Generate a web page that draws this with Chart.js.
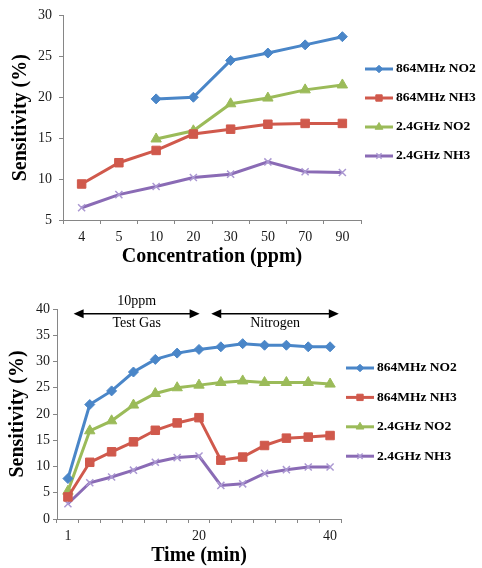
<!DOCTYPE html>
<html>
<head>
<meta charset="utf-8">
<script src="https://cdn.jsdelivr.net/npm/chart.js@4.4.1/dist/chart.umd.min.js"></script>
<style>
  body { margin: 0; background: #fff; }
  canvas { display: block; }
</style>
</head>
<body>
<canvas id="concChart" width="482" height="284"></canvas>
<canvas id="timeChart" width="482" height="284"></canvas>
<script>
const seriesNames = ["864MHz NO2", "864MHz NH3", "2.4GHz NO2", "2.4GHz NH3"];

// top chart: sensitivity vs concentration
const concLabels = ["4", "5", "10", "20", "30", "50", "70", "90"];
const concNo2_864 = [null, null, 19.8, 20.0, 24.5, 25.4, 26.4, 27.4];
const concNh3_864 = [9.4, 12.0, 13.5, 15.5, 16.1, 16.7, 16.8, 16.8];
const concNo2_24 = [null, null, 14.9, 15.9, 19.2, 19.9, 20.9, 21.5];
const concNh3_24 = [6.5, 8.1, 9.1, 10.2, 10.6, 12.1, 10.9, 10.8];

// bottom chart: sensitivity vs time
const timeLabels = ["1", "", "", "", "", "", "20", "", "", "", "", "", "40"];
const timeNo2_864 = [7.7, 21.8, 24.4, 28.0, 30.4, 31.6, 32.3, 32.8, 33.4, 33.1, 33.1, 32.8, 32.8];
const timeNh3_864 = [4.2, 10.8, 12.8, 14.7, 16.9, 18.3, 19.3, 11.2, 11.8, 14.0, 15.4, 15.6, 15.9];
const timeNo2_24 = [5.3, 16.8, 18.7, 21.7, 23.9, 25.0, 25.5, 26.0, 26.3, 26.0, 26.0, 26.0, 25.7];
const timeNh3_24 = [2.9, 6.9, 8.0, 9.3, 10.8, 11.7, 12.0, 6.4, 6.7, 8.7, 9.4, 9.9, 9.9];

// phases marked above the time chart (positions in category units)
const phaseTop = ["10ppm", ""];
const phaseNames = ["Test Gas", "Nitrogen"];
const phaseFrom = [0.26, 6.56];
const phaseTo = [6.03, 12.4];

const FONT = "'Liberation Serif', 'Times New Roman', serif";
const AXIS = "#868686";

const looks = [
  { color: "#4a86c8", marker: "#4a86c8", point: "rectRot", radius: 5 },
  { color: "#d0594c", marker: "#d0594c", point: "rect", radius: 6 },
  { color: "#9bbb59", marker: "#9bbb59", point: "triangle", radius: 6 },
  { color: "#8a6bb5", marker: "#ab98d2", point: "crossRot", radius: 5 }
];

function makeDatasets(series) {
  return series.map((values, i) => ({
    label: seriesNames[i],
    data: values,
    borderColor: looks[i].color,
    backgroundColor: looks[i].marker,
    borderWidth: 3,
    pointStyle: looks[i].point,
    pointRadius: looks[i].radius,
    pointBackgroundColor: looks[i].marker,
    pointBorderColor: looks[i].marker,
    pointBorderWidth: looks[i].point === "crossRot" ? 1.5 : 1,
    tension: 0
  }));
}

const sideLegend = {
  id: "sideLegend",
  afterDraw(chart, args, opts) {
    const ctx = chart.ctx;
    ctx.save();
    chart.data.datasets.forEach((ds, i) => {
      const y = opts.top + i * opts.step;
      ctx.strokeStyle = ds.borderColor;
      ctx.lineWidth = 3;
      ctx.beginPath();
      ctx.moveTo(opts.left, y);
      ctx.lineTo(opts.left + 28, y);
      ctx.stroke();
      ctx.fillStyle = ds.pointBackgroundColor;
      ctx.strokeStyle = ds.pointBorderColor;
      ctx.lineWidth = ds.pointBorderWidth;
      Chart.helpers.drawPoint(ctx, {
        pointStyle: ds.pointStyle,
        radius: ds.pointRadius * 0.75,
        rotation: 0,
        borderWidth: ds.pointBorderWidth
      }, opts.left + 14, y);
      ctx.fillStyle = "#000";
      ctx.font = "bold 13.5px " + FONT;
      ctx.textBaseline = "middle";
      ctx.textAlign = "left";
      ctx.fillText(ds.label, opts.textLeft, y);
    });
    ctx.restore();
  }
};

const phaseArrows = {
  id: "phaseArrows",
  afterDraw(chart) {
    const ctx = chart.ctx;
    const xs = chart.scales.x;
    const ys = chart.scales.y;
    const y = ys.getPixelForValue(39.1);
    ctx.save();
    ctx.strokeStyle = "#000";
    ctx.fillStyle = "#000";
    ctx.lineWidth = 1.5;
    phaseNames.forEach((name, i) => {
      const x1 = xs.getPixelForValue(phaseFrom[i]);
      const x2 = xs.getPixelForValue(phaseTo[i]);
      ctx.beginPath();
      ctx.moveTo(x1 + 6, y);
      ctx.lineTo(x2 - 6, y);
      ctx.stroke();
      ctx.beginPath();
      ctx.moveTo(x1, y);
      ctx.lineTo(x1 + 10, y - 4.5);
      ctx.lineTo(x1 + 10, y + 4.5);
      ctx.closePath();
      ctx.fill();
      ctx.beginPath();
      ctx.moveTo(x2, y);
      ctx.lineTo(x2 - 10, y - 4.5);
      ctx.lineTo(x2 - 10, y + 4.5);
      ctx.closePath();
      ctx.fill();
      ctx.font = "14px " + FONT;
      ctx.textAlign = "center";
      ctx.textBaseline = "middle";
      const cx = (x1 + x2) / 2;
      ctx.fillText(name, cx, ys.getPixelForValue(37.3));
      if (phaseTop[i]) ctx.fillText(phaseTop[i], cx, ys.getPixelForValue(41.45));
    });
    ctx.restore();
  }
};

function makeChart(id, labels, series, cfg) {
  return new Chart(document.getElementById(id), {
    type: "line",
    data: { labels: labels, datasets: makeDatasets(series) },
    plugins: cfg.plugins,
    options: {
      responsive: false,
      animation: false,
      devicePixelRatio: 1,
      layout: { padding: cfg.padding },
      plugins: {
        legend: { display: false },
        tooltip: { enabled: false },
        sideLegend: cfg.legend
      },
      scales: {
        x: {
          type: "category",
          offset: true,
          afterFit: s => { s.height = cfg.xHeight; },
          grid: { drawOnChartArea: false, offset: true, tickLength: 4, color: AXIS },
          border: { color: AXIS, width: 1 },
          ticks: {
            autoSkip: false, maxRotation: 0, padding: cfg.xPad,
            color: "#1a1a1a", font: { family: FONT, size: 14 }
          },
          title: {
            display: true, text: cfg.xTitle, color: "#000",
            font: { family: FONT, size: 20, weight: "bold" },
            padding: { top: 0, bottom: cfg.xTitlePad }
          }
        },
        y: {
          min: cfg.yMin, max: cfg.yMax,
          afterFit: s => { s.width = cfg.yWidth; },
          grid: { drawOnChartArea: false, tickLength: 4, color: AXIS },
          border: { color: AXIS, width: 1 },
          ticks: {
            stepSize: 5, padding: cfg.yPad,
            color: "#1a1a1a", font: { family: FONT, size: 14 }
          },
          title: {
            display: true, text: "Sensitivity (%)", color: "#000",
            font: { family: FONT, size: 20, weight: "bold" },
            padding: { top: cfg.yTitlePad, bottom: 0 }
          }
        }
      }
    }
  });
}

makeChart("concChart", concLabels, [concNo2_864, concNh3_864, concNo2_24, concNh3_24], {
  plugins: [sideLegend],
  padding: { top: 15, right: 121, bottom: 0, left: 0 },
  legend: { left: 365, textLeft: 396, top: 69, step: 29 },
  xHeight: 64, xPad: 5, xTitle: "Concentration (ppm)", xTitlePad: 15,
  yWidth: 63, yPad: 7, yTitlePad: 8.5,
  yMin: 5, yMax: 30
});

makeChart("timeChart", timeLabels, [timeNo2_864, timeNh3_864, timeNo2_24, timeNh3_24], {
  plugins: [sideLegend, phaseArrows],
  padding: { top: 25, right: 141, bottom: 0, left: 0 },
  legend: { left: 346, textLeft: 377, top: 84, step: 29.4 },
  xHeight: 49, xPad: 5, xTitle: "Time (min)", xTitlePad: 0,
  yWidth: 57, yPad: 3, yTitlePad: 6,
  yMin: 0, yMax: 40
});
</script>
</body>
</html>
